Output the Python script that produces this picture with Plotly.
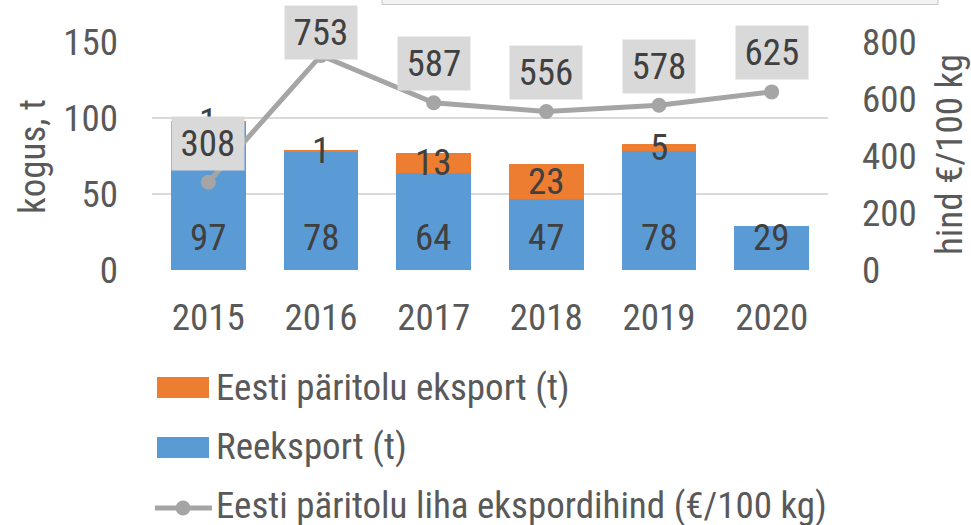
import plotly.graph_objects as go

years = ["2015", "2016", "2017", "2018", "2019", "2020"]
reexport = [97, 78, 64, 47, 78, 29]
estonian_export = [1, 1, 13, 23, 5, 0]
price = [308, 753, 587, 556, 578, 625]

name_est = "Eesti päritolu eksport (t)"
name_re = "Reeksport (t)"
name_price = "Eesti päritolu liha ekspordihind (€/100 kg)"

W, H = 971, 525
L, R, T, B = 152, 828, 42, 270   # plot area in pixels
Y1MAX, Y2MAX = 150, 800

FONT = "Roboto Condensed, Roboto, Arial Narrow, sans-serif"
FS = 37
AXC = "#595959"
LBLC = "#404040"
BLUE = "#5B9BD5"
ORANGE = "#ED7D31"
GREY = "#A5A5A5"
GRID = "#D9D9D9"

pos = list(range(len(years)))  # category positions on the x axis


def px(x):
    return (x - L) / (R - L)


def py(y):
    return (B - y) / (B - T)


fig = go.Figure()
fig.add_trace(go.Bar(x=pos, y=reexport, name=name_re, marker_color=BLUE,
                     marker_line_width=0, showlegend=False))
fig.add_trace(go.Bar(x=pos, y=estonian_export, name=name_est, marker_color=ORANGE,
                     marker_line_width=0, showlegend=False))
fig.add_trace(go.Scatter(x=pos, y=price, name=name_price, yaxis="y2",
                         mode="lines+markers", line=dict(color=GREY, width=5),
                         marker=dict(color=GREY, size=15), showlegend=False))

annotations = []
# blue labels at inside base
for x, v in zip(pos, reexport):
    annotations.append(dict(x=x, y=0, xref="x", yref="y", text=str(v), showarrow=False,
                            xanchor="center", yanchor="middle",
                            yshift=33, font=dict(family=FONT, size=FS, color=LBLC)))
# orange labels centered
for x, b, v in zip(pos, reexport, estonian_export):
    if v:
        annotations.append(dict(x=x, y=b + v / 2, xref="x", yref="y", text=str(v), showarrow=False,
                                xanchor="center", yanchor="middle",
                                font=dict(family=FONT, size=FS, color=LBLC)))
# price labels with grey boxes
for x, v in zip(pos, price):
    ypix = B - v * (B - T) / Y2MAX
    shift = min(39, ypix - 33)
    annotations.append(dict(x=x, y=v, xref="x", yref="y2", text=str(v), showarrow=False,
                            xanchor="center", yanchor="middle",
                            yshift=shift, bgcolor="#D9D9D9", borderpad=4,
                            width=64, height=45, valign="middle",
                            font=dict(family=FONT, size=FS, color=LBLC)))
# axis titles
annotations.append(dict(xref="paper", yref="paper", x=px(32), y=py(157), text="kogus, t",
                        textangle=-90, showarrow=False, xanchor="center", yanchor="middle",
                        font=dict(family=FONT, size=FS, color=AXC)))
annotations.append(dict(xref="paper", yref="paper", x=px(949), y=py(155), text="hind €/100 kg",
                        textangle=-90, showarrow=False, xanchor="center", yanchor="middle",
                        font=dict(family=FONT, size=FS, color=AXC)))
# manual legend texts
for name, yc in [(name_est, 387), (name_re, 446), (name_price, 505)]:
    annotations.append(dict(xref="paper", yref="paper", x=px(214), y=py(yc), text=name,
                            xanchor="left", yanchor="middle", showarrow=False,
                            font=dict(family=FONT, size=FS, color=AXC)))

shapes = [
    dict(type="rect", xref="paper", yref="paper", x0=px(157), x1=px(209), y0=py(377), y1=py(398),
         fillcolor=ORANGE, line_width=0),
    dict(type="rect", xref="paper", yref="paper", x0=px(157), x1=px(209), y0=py(437), y1=py(458),
         fillcolor=BLUE, line_width=0),
    dict(type="line", xref="paper", yref="paper", x0=px(155), x1=px(212), y0=py(508), y1=py(508),
         line=dict(color=GREY, width=5)),
    dict(type="circle", xref="paper", yref="paper", x0=px(175.5), x1=px(190.5), y0=py(500.5), y1=py(515.5),
         fillcolor=GREY, line_width=0),
    # cropped image strip at top
    dict(type="rect", xref="paper", yref="paper", x0=px(382), x1=px(938), y0=py(-2), y1=py(4.5),
         fillcolor="#F2F2F2", line=dict(color="#C8C8C8", width=1)),
]

fig.update_layout(
    width=W, height=H,
    margin=dict(l=L, r=W - R, t=T, b=H - B, pad=0),
    barmode="stack", bargap=0.335,
    plot_bgcolor="white", paper_bgcolor="white",
    font=dict(family=FONT, size=FS, color=AXC),
    showlegend=False,
    xaxis=dict(type="linear", range=[-0.5, len(years) - 0.5], tickvals=pos, ticktext=years,
               showgrid=False, showline=False, zeroline=False, ticks="", ticklabelstandoff=22,
               tickfont=dict(family=FONT, size=FS, color=AXC)),
    yaxis=dict(range=[0, Y1MAX], tickvals=[0, 50, 100, 150], showgrid=True, gridcolor=GRID,
               gridwidth=1.5, zeroline=False, showline=False, ticks="", ticklabelstandoff=33,
               tickfont=dict(family=FONT, size=FS, color=AXC)),
    yaxis2=dict(range=[0, Y2MAX], tickvals=[0, 200, 400, 600, 800], overlaying="y", side="right",
                showgrid=False, zeroline=False, showline=False, ticks="", ticklabelstandoff=33,
                tickfont=dict(family=FONT, size=FS, color=AXC)),
    annotations=annotations,
    shapes=shapes,
)

fig.write_html("out.html", config={"displayModeBar": False},
               post_script="document.body.style.margin='0';document.body.style.overflow='hidden';")
